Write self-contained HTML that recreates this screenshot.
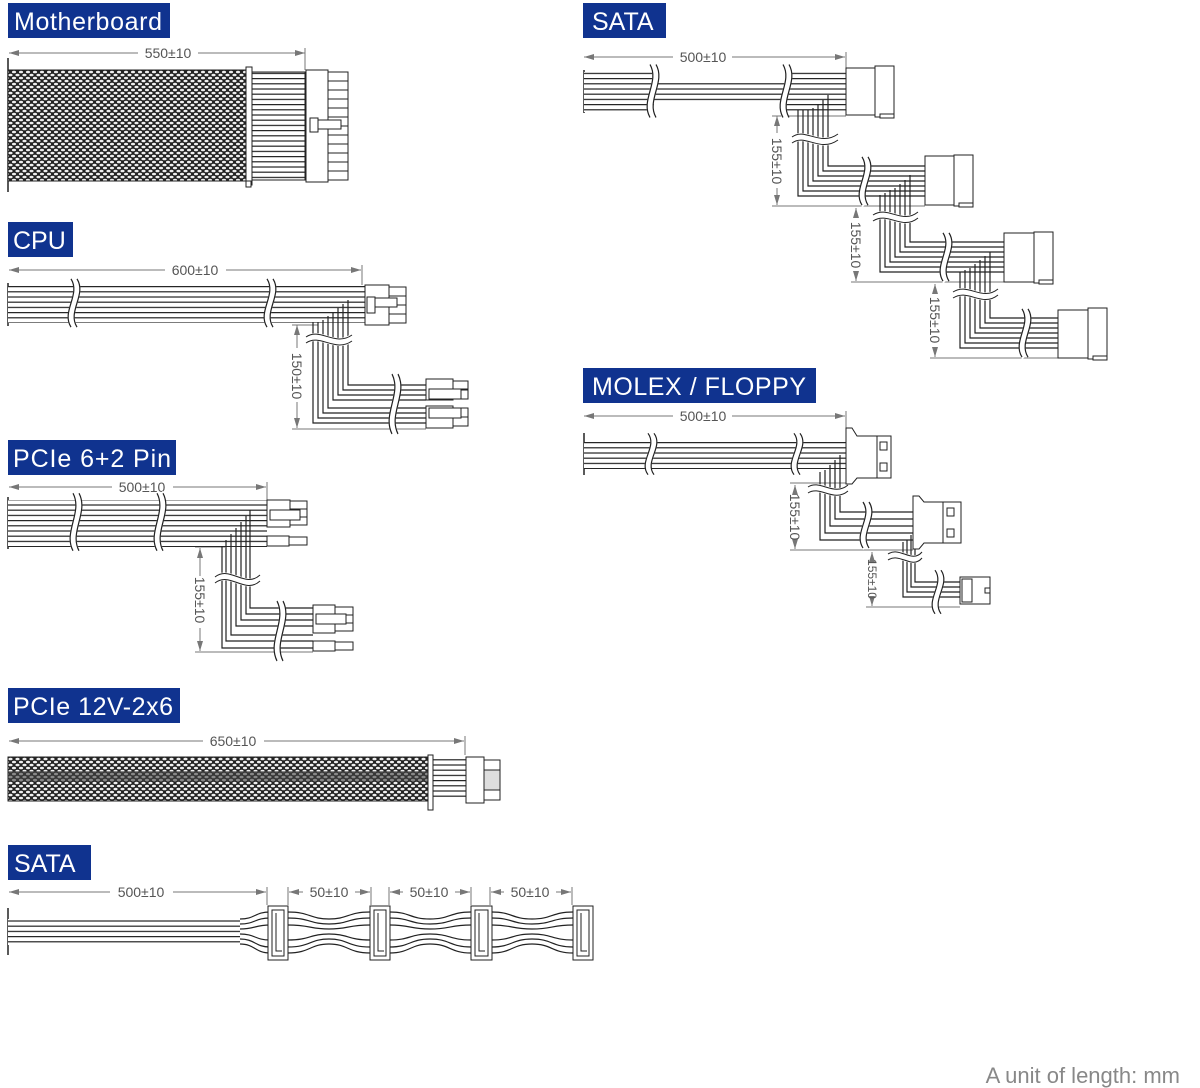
<!DOCTYPE html>
<html><head><meta charset="utf-8"><style>
html,body{margin:0;padding:0;background:#fff;}
svg{display:block}
.t{font-family:"Liberation Sans",sans-serif;fill:#fff;font-size:25px}
.d{font-family:"Liberation Sans",sans-serif;fill:#555;font-size:14px}
</style></head><body>
<svg width="1200" height="1088" viewBox="0 0 1200 1088" xmlns="http://www.w3.org/2000/svg">
<defs>
<marker id="ar" viewBox="0 0 10 6" refX="10" refY="3" markerWidth="10" markerHeight="6" orient="auto-start-reverse" markerUnits="userSpaceOnUse"><path d="M0,0 L10,3 L0,6z" fill="#777"/></marker>
<pattern id="hw" width="10" height="5.2" patternUnits="userSpaceOnUse"><rect width="10" height="5.2" fill="#fff"/><rect y="0" width="10" height="1.2" fill="#222"/></pattern>
<pattern id="mesh" width="7" height="6" patternUnits="userSpaceOnUse"><rect width="7" height="6" fill="#222"/><ellipse cx="3.5" cy="3" rx="2.1" ry="1.3" fill="#eee"/><ellipse cx="0" cy="0" rx="2.1" ry="1.3" fill="#eee"/><ellipse cx="7" cy="0" rx="2.1" ry="1.3" fill="#eee"/><ellipse cx="0" cy="6" rx="2.1" ry="1.3" fill="#eee"/><ellipse cx="7" cy="6" rx="2.1" ry="1.3" fill="#eee"/></pattern>
<g id="vb"><path d="M0,-3 C10,12 -10,28 0,43" stroke="#fff" stroke-width="7" fill="none"/><path d="M-3,-3 C7,12 -13,28 -3,43" stroke="#222" fill="none" stroke-width="1.2"/><path d="M3,-3 C13,12 -7,28 3,43" stroke="#222" fill="none" stroke-width="1.2"/></g>
</defs>

<!-- Titles -->
<rect x="8" y="3" width="162" height="35" fill="#10338f"/><text class="t" x="14" y="30" textLength="148">Motherboard</text>
<rect x="583" y="3" width="83" height="35" fill="#10338f"/><text class="t" x="592" y="30">SATA</text>
<rect x="8" y="222" width="65" height="35" fill="#10338f"/><text class="t" x="13" y="249">CPU</text>
<rect x="8" y="440" width="168" height="35" fill="#10338f"/><text class="t" x="13" y="467" textLength="158">PCIe 6+2 Pin</text>
<rect x="8" y="688" width="172" height="35" fill="#10338f"/><text class="t" x="13" y="715" textLength="160">PCIe 12V-2x6</text>
<rect x="8" y="845" width="83" height="35" fill="#10338f"/><text class="t" x="14" y="872">SATA</text>
<rect x="583" y="368" width="233" height="35" fill="#10338f"/><text class="t" x="592" y="395" textLength="214">MOLEX / FLOPPY</text>

<g stroke="#777" stroke-width="1" fill="none">
<line x1="9" y1="53" x2="138" y2="53" marker-start="url(#ar)"/><line x1="198" y1="53" x2="305" y2="53" marker-end="url(#ar)"/><line x1="305" y1="48" x2="305" y2="70"/>
<line x1="9" y1="270" x2="165" y2="270" marker-start="url(#ar)"/><line x1="226" y1="270" x2="361" y2="270" marker-end="url(#ar)"/><line x1="362" y1="265" x2="362" y2="285"/>
<line x1="9" y1="487" x2="112" y2="487" marker-start="url(#ar)"/><line x1="173" y1="487" x2="266" y2="487" marker-end="url(#ar)"/><line x1="267" y1="482" x2="267" y2="500"/>
<line x1="9" y1="741" x2="203" y2="741" marker-start="url(#ar)"/><line x1="264" y1="741" x2="464" y2="741" marker-end="url(#ar)"/><line x1="465" y1="736" x2="465" y2="755"/>
<line x1="9" y1="892" x2="110" y2="892" marker-start="url(#ar)"/><line x1="173" y1="892" x2="266" y2="892" marker-end="url(#ar)"/><line x1="267" y1="887" x2="267" y2="905"/>
<line x1="289" y1="892" x2="303" y2="892" marker-start="url(#ar)"/><line x1="355" y1="892" x2="370" y2="892" marker-end="url(#ar)"/><line x1="288" y1="887" x2="288" y2="905"/><line x1="371" y1="887" x2="371" y2="905"/>
<line x1="390" y1="892" x2="403" y2="892" marker-start="url(#ar)"/><line x1="455" y1="892" x2="470" y2="892" marker-end="url(#ar)"/><line x1="389" y1="887" x2="389" y2="905"/><line x1="471" y1="887" x2="471" y2="905"/>
<line x1="491" y1="892" x2="504" y2="892" marker-start="url(#ar)"/><line x1="556" y1="892" x2="571" y2="892" marker-end="url(#ar)"/><line x1="490" y1="887" x2="490" y2="905"/><line x1="572" y1="887" x2="572" y2="905"/>
<line x1="584" y1="57" x2="673" y2="57" marker-start="url(#ar)"/><line x1="732" y1="57" x2="845" y2="57" marker-end="url(#ar)"/><line x1="846" y1="52" x2="846" y2="68"/>
<line x1="584" y1="416" x2="673" y2="416" marker-start="url(#ar)"/><line x1="732" y1="416" x2="845" y2="416" marker-end="url(#ar)"/><line x1="846" y1="411" x2="846" y2="428"/>
<line x1="297" y1="325" x2="297" y2="348" marker-start="url(#ar)"/><line x1="297" y1="402" x2="297" y2="428" marker-end="url(#ar)"/><line x1="292" y1="325" x2="318" y2="325"/><line x1="292" y1="429" x2="426" y2="429"/>
<line x1="200" y1="548" x2="200" y2="576" marker-start="url(#ar)"/><line x1="200" y1="628" x2="200" y2="651" marker-end="url(#ar)"/><line x1="195" y1="547" x2="225" y2="547"/><line x1="195" y1="652" x2="313" y2="652"/>
<line x1="777" y1="116" x2="777" y2="133" marker-start="url(#ar)"/><line x1="777" y1="188" x2="777" y2="205" marker-end="url(#ar)"/><line x1="772" y1="116" x2="846" y2="116"/><line x1="772" y1="206" x2="925" y2="206"/>
<line x1="856" y1="208" x2="856" y2="218" marker-start="url(#ar)"/><line x1="856" y1="272" x2="856" y2="281" marker-end="url(#ar)"/><line x1="851" y1="282" x2="1004" y2="282"/>
<line x1="935" y1="284" x2="935" y2="293" marker-start="url(#ar)"/><line x1="935" y1="348" x2="935" y2="357" marker-end="url(#ar)"/><line x1="930" y1="358" x2="1058" y2="358"/>
<line x1="795" y1="485" x2="795" y2="492" marker-start="url(#ar)"/><line x1="795" y1="542" x2="795" y2="549" marker-end="url(#ar)"/><line x1="790" y1="483" x2="846" y2="483"/><line x1="790" y1="550" x2="913" y2="550"/>
<line x1="872" y1="552" x2="872" y2="557" marker-start="url(#ar)"/><line x1="872" y1="601" x2="872" y2="606" marker-end="url(#ar)"/><line x1="866" y1="607" x2="960" y2="607"/>
</g>
<g class="d">
<text x="168" y="58" text-anchor="middle">550±10</text>
<text x="195" y="275" text-anchor="middle">600±10</text>
<text x="142" y="492" text-anchor="middle">500±10</text>
<text x="233" y="746" text-anchor="middle">650±10</text>
<text x="141" y="897" text-anchor="middle">500±10</text>
<text x="329" y="897" text-anchor="middle">50±10</text>
<text x="429" y="897" text-anchor="middle">50±10</text>
<text x="530" y="897" text-anchor="middle">50±10</text>
<text x="703" y="62" text-anchor="middle">500±10</text>
<text x="703" y="421" text-anchor="middle">500±10</text>
<text transform="translate(292,376) rotate(90)" text-anchor="middle">150±10</text>
<text transform="translate(195,600) rotate(90)" text-anchor="middle">155±10</text>
<text transform="translate(772,161) rotate(90)" text-anchor="middle">155±10</text>
<text transform="translate(851,245) rotate(90)" text-anchor="middle">155±10</text>
<text transform="translate(930,320) rotate(90)" text-anchor="middle">155±10</text>
<text transform="translate(790,517) rotate(90)" text-anchor="middle">155±10</text>
<text transform="translate(868,579) rotate(90)" text-anchor="middle" style="font-size:12px">155±10</text>
</g>

<!-- Motherboard -->
<line x1="8" y1="58" x2="8" y2="192" stroke="#222" stroke-width="1.5"/>
<rect x="8" y="70" width="240" height="111" fill="url(#mesh)" stroke="#222"/>
<rect x="252" y="72" width="53" height="108" fill="url(#hw)" stroke="#222"/>
<rect x="246" y="67" width="6" height="118" fill="#fff" stroke="#222"/><rect x="246" y="181" width="5" height="6" fill="#fff" stroke="#222"/>
<rect x="306" y="70" width="22" height="112" fill="#fff" stroke="#222"/>
<g fill="#fff" stroke="#222">
<rect x="328" y="72" width="20" height="9"/><rect x="328" y="81" width="20" height="9"/><rect x="328" y="90" width="20" height="9"/><rect x="328" y="99" width="20" height="9"/><rect x="328" y="108" width="20" height="9"/><rect x="328" y="117" width="20" height="9"/><rect x="328" y="126" width="20" height="9"/><rect x="328" y="135" width="20" height="9"/><rect x="328" y="144" width="20" height="9"/><rect x="328" y="153" width="20" height="9"/><rect x="328" y="162" width="20" height="9"/><rect x="328" y="171" width="20" height="9"/>
<rect x="310" y="120" width="31" height="9"/><rect x="310" y="118" width="8" height="14"/>
</g>

<!-- CPU -->
<line x1="8" y1="283" x2="8" y2="326" stroke="#222" stroke-width="1.5"/>
<rect x="8" y="286" width="357" height="37" fill="url(#hw)"/>
<use href="#vb" transform="translate(74,282) scale(1,1.05)"/><use href="#vb" transform="translate(270,282) scale(1,1.05)"/>
<g stroke="#222" fill="none" stroke-width="1.2">
<path d="M348,300V385H426M343,304V390H426M338,308V395H426M333,312V400H426M328,316V408H426M323,320V413H426M318,322V418H426M313,322V423H426"/>
</g>
<path d="M306,340 C320,330 335,350 352,338" stroke="#fff" stroke-width="8" fill="none"/>
<path d="M306,337 C320,327 335,347 352,335M306,343 C320,333 335,353 352,341" stroke="#222" fill="none"/>
<use href="#vb" transform="translate(395,378) scale(1,1.3)"/>
<g fill="#fff" stroke="#222">
<rect x="365" y="285" width="24" height="40"/><rect x="389" y="287" width="17" height="9"/><rect x="389" y="296" width="17" height="9"/><rect x="389" y="305" width="17" height="9"/><rect x="389" y="314" width="17" height="9"/><rect x="369" y="298" width="28" height="9"/><rect x="367" y="297" width="8" height="16"/>
<rect x="426" y="379" width="27" height="21"/><rect x="453" y="381" width="15" height="8"/><rect x="453" y="390" width="15" height="9"/><rect x="429" y="389" width="32" height="10"/>
<rect x="426" y="406" width="27" height="22"/><rect x="453" y="408" width="15" height="9"/><rect x="453" y="417" width="15" height="9"/><rect x="429" y="408" width="32" height="10"/>
</g>

<!-- PCIe 6+2 -->
<line x1="8" y1="497" x2="8" y2="549" stroke="#222" stroke-width="1.5"/>
<rect x="8" y="500" width="259" height="47" fill="url(#hw)"/>
<use href="#vb" transform="translate(76,497) scale(1,1.25)"/><use href="#vb" transform="translate(160,497) scale(1,1.25)"/>
<g stroke="#222" fill="none" stroke-width="1.2">
<path d="M250,510V608H313M246,516V614H313M241,522V620H313M236,528V626H313M231,534V635H313M226,540V641H313M222,546V648H313"/>
</g>
<path d="M215,580 C230,568 245,592 260,578" stroke="#fff" stroke-width="8" fill="none"/>
<path d="M215,577 C230,565 245,589 260,575M215,583 C230,571 245,595 260,581" stroke="#222" fill="none"/>
<use href="#vb" transform="translate(280,605) scale(1,1.3)"/>
<g fill="#fff" stroke="#222">
<rect x="267" y="500" width="23" height="27"/><rect x="290" y="501" width="17" height="8"/><rect x="290" y="509" width="17" height="8"/><rect x="290" y="517" width="17" height="8"/><rect x="270" y="510" width="30" height="10"/>
<rect x="267" y="536" width="22" height="10"/><rect x="289" y="537" width="18" height="8"/>
<rect x="313" y="605" width="22" height="28"/><rect x="335" y="607" width="18" height="8"/><rect x="335" y="615" width="18" height="8"/><rect x="335" y="623" width="18" height="8"/><rect x="316" y="614" width="30" height="10"/>
<rect x="313" y="641" width="22" height="10"/><rect x="335" y="642" width="18" height="8"/>
</g>

<!-- PCIe 12V-2x6 -->
<rect x="8" y="757" width="420" height="44" fill="url(#mesh)" stroke="#222"/>
<rect x="8" y="771" width="420" height="10" fill="#444" opacity="0.6"/>
<rect x="432" y="759" width="34" height="40" fill="url(#hw)"/>
<rect x="428" y="755" width="5" height="55" fill="#fff" stroke="#222"/>
<g fill="#fff" stroke="#222">
<rect x="466" y="757" width="18" height="46"/><rect x="484" y="760" width="16" height="40"/><rect x="484" y="770" width="16" height="20" fill="#ddd"/>
</g>

<!-- SATA bottom -->
<line x1="8" y1="908" x2="8" y2="955" stroke="#222" stroke-width="1.5"/>
<rect x="8" y="919" width="232" height="26" fill="url(#hw)"/>
<g stroke="#222" fill="none" stroke-width="1.2">
<path d="M240,919 C255,919 255,912 270,912M240,924 C255,924 255,918 270,918M240,929 C255,929 255,925 270,925M240,934 C255,934 255,940 270,940M240,939 C255,939 255,947 270,947M240,944 C255,944 255,953 270,953"/>
<path d="M288,912 C310,912 310,919 329,919 C348,919 348,912 370,912M288,918 C310,918 310,924 329,924 C348,924 348,918 370,918M288,925 C310,925 310,929 329,929 C348,929 348,925 370,925M288,940 C310,940 310,934 329,934 C348,934 348,940 370,940M288,947 C310,947 310,939 329,939 C348,939 348,947 370,947M288,953 C310,953 310,944 329,944 C348,944 348,953 370,953"/>
<path d="M390,912 C410,912 410,919 430,919 C450,919 450,912 471,912M390,918 C410,918 410,924 430,924 C450,924 450,918 471,918M390,925 C410,925 410,929 430,929 C450,929 450,925 471,925M390,940 C410,940 410,934 430,934 C450,934 450,940 471,940M390,947 C410,947 410,939 430,939 C450,939 450,947 471,947M390,953 C410,953 410,944 430,944 C450,944 450,953 471,953"/>
<path d="M492,912 C512,912 512,919 532,919 C552,919 552,912 573,912M492,918 C512,918 512,924 532,924 C552,924 552,918 573,918M492,925 C512,925 512,929 532,929 C552,929 552,925 573,925M492,940 C512,940 512,934 532,934 C552,934 552,940 573,940M492,947 C512,947 512,939 532,939 C552,939 552,947 573,947M492,953 C512,953 512,944 532,944 C552,944 552,953 573,953"/>
</g>
<g fill="#fff" stroke="#222">
<rect x="268" y="906" width="20" height="54"/><rect x="272" y="910" width="12" height="46"/><path d="M276,913V951H282" fill="none"/>
<rect x="370" y="906" width="20" height="54"/><rect x="374" y="910" width="12" height="46"/><path d="M378,913V951H384" fill="none"/>
<rect x="471" y="906" width="21" height="54"/><rect x="475" y="910" width="13" height="46"/><path d="M479,913V951H485" fill="none"/>
<rect x="573" y="906" width="20" height="54"/><rect x="577" y="910" width="12" height="46"/><path d="M581,913V951H587" fill="none"/>
</g>

<!-- SATA right -->
<line x1="584" y1="70" x2="584" y2="113" stroke="#222" stroke-width="1.5"/>
<rect x="584" y="72" width="70" height="40" fill="url(#hw)"/>
<rect x="654" y="82" width="132" height="21" fill="url(#hw)"/>
<rect x="786" y="72" width="60" height="40" fill="url(#hw)"/>
<use href="#vb" transform="translate(653,68) scale(1,1.15)"/><use href="#vb" transform="translate(786,68) scale(1,1.15)"/>
<g stroke="#222" fill="none" stroke-width="1.2">
<path d="M828,95V166H925M823,100V171H925M818,104V176H925M813,108V181H925M808,110V186H925M803,110V191H925M798,110V196H925"/>
<path d="M910,175V242H1004M905,180V247H1004M900,184V252H1004M895,188V257H1004M890,190V262H1004M885,193V267H1004M880,195V272H1004"/>
<path d="M990,252V318H1058M985,256V323H1058M980,260V328H1058M975,264V333H1058M970,268V338H1058M965,270V343H1058M960,272V348H1058"/>
</g>
<path d="M792,140 C805,130 820,150 838,137" stroke="#fff" stroke-width="8" fill="none"/><path d="M792,137 C805,127 820,147 838,134M792,143 C805,133 820,153 838,140" stroke="#222" fill="none"/>
<path d="M873,218 C888,208 902,228 918,215" stroke="#fff" stroke-width="8" fill="none"/><path d="M873,215 C888,205 902,225 918,212M873,221 C888,211 902,231 918,218" stroke="#222" fill="none"/>
<path d="M953,295 C968,285 982,305 998,292" stroke="#fff" stroke-width="8" fill="none"/><path d="M953,292 C968,282 982,302 998,289M953,298 C968,288 982,308 998,295" stroke="#222" fill="none"/>
<use href="#vb" transform="translate(865,160) scale(1,1.05)"/><use href="#vb" transform="translate(946,236) scale(1,1.05)"/><use href="#vb" transform="translate(1025,312) scale(1,1.05)"/>
<g fill="#fff" stroke="#222">
<rect x="846" y="68" width="29" height="47"/><rect x="875" y="66" width="19" height="51"/><rect x="880" y="114" width="14" height="4"/>
<rect x="925" y="156" width="29" height="49"/><rect x="954" y="155" width="19" height="51"/><rect x="959" y="203" width="14" height="4"/>
<rect x="1004" y="233" width="30" height="49"/><rect x="1034" y="232" width="19" height="51"/><rect x="1039" y="280" width="14" height="4"/>
<rect x="1058" y="310" width="30" height="48"/><rect x="1088" y="308" width="19" height="51"/><rect x="1093" y="356" width="14" height="4"/>
</g>

<!-- MOLEX -->
<line x1="584" y1="433" x2="584" y2="475" stroke="#222" stroke-width="1.5"/>
<rect x="584" y="442" width="262" height="27" fill="url(#hw)"/>
<use href="#vb" transform="translate(651,436) scale(1,0.9)"/><use href="#vb" transform="translate(797,436) scale(1,0.9)"/>
<g stroke="#222" fill="none" stroke-width="1.2">
<path d="M840,455V512H913M835,460V519H913M830,465V526H913M825,470V533H913M820,472V540H913"/>
<path d="M915,528V582H960M911,535V587H960M907,540V592H960M903,542V597H960"/>
</g>
<path d="M808,490 C820,482 834,500 848,488" stroke="#fff" stroke-width="8" fill="none"/><path d="M808,487 C820,479 834,497 848,485M808,493 C820,485 834,503 848,491" stroke="#222" fill="none"/>
<path d="M888,557 C900,549 912,567 922,555" stroke="#fff" stroke-width="8" fill="none"/><path d="M888,554 C900,546 912,564 922,552M888,560 C900,552 912,570 922,558" stroke="#222" fill="none"/>
<use href="#vb" transform="translate(866,505) scale(1,1)"/><use href="#vb" transform="translate(938,573) scale(1,0.95)"/>
<g fill="#fff" stroke="#222">
<path d="M846,428 L852,428 L857,436 L877,436 L877,478 L857,478 L852,484 L846,484Z"/><rect x="877" y="436" width="14" height="42"/><rect x="880" y="442" width="7" height="8"/><rect x="880" y="463" width="7" height="8"/>
<path d="M913,496 L919,496 L924,502 L943,502 L943,543 L924,543 L919,549 L913,549Z"/><rect x="943" y="502" width="18" height="41"/><rect x="947" y="508" width="7" height="8"/><rect x="947" y="529" width="7" height="8"/>
<rect x="960" y="577" width="30" height="27"/><rect x="962" y="579" width="10" height="23"/><rect x="985" y="588" width="5" height="5"/>
</g>

<text x="1180" y="1083" text-anchor="end" style="font-family:'Liberation Sans',sans-serif;font-size:22px;fill:#888">A unit of length: mm</text>
</svg>
</body></html>
